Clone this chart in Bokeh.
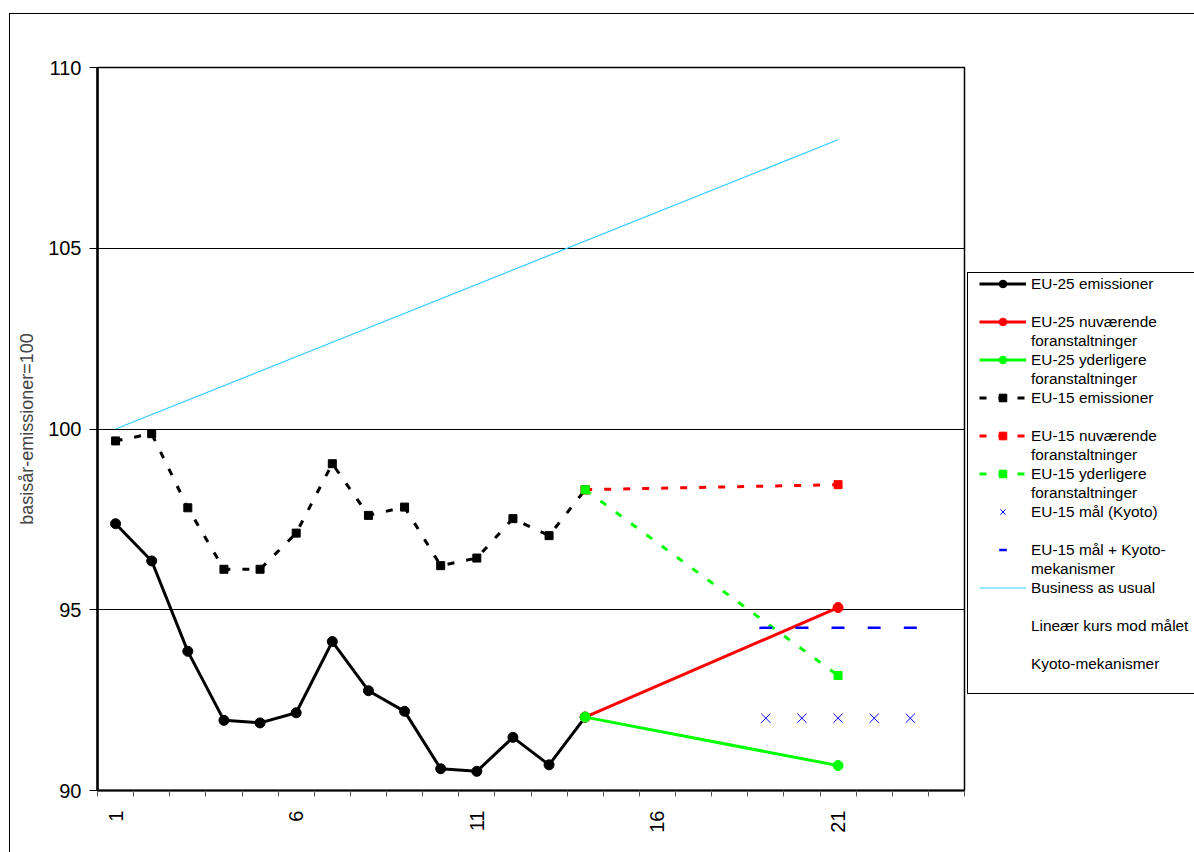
import math
from bokeh.plotting import figure
from bokeh.models import Range1d, FixedTicker, Legend, LegendItem, InlineStyleSheet
from bokeh.embed import file_html
from bokeh.resources import INLINE

# ---------------- data ----------------
categories = [1, 2, 3, 4, 5, 6, 7, 8, 9, 10, 11, 12, 13, 14, 15, 16, 17, 18, 19, 20, 21, 22, 23, 24]
x_tick_values = [1, 6, 11, 16, 21]
x_tick_labels = ["1", "6", "11", "16", "21"]
y_tick_values = [90, 95, 100, 105, 110]

hist_x = [1, 2, 3, 4, 5, 6, 7, 8, 9, 10, 11, 12, 13, 14]
eu25_emissions = [97.38, 96.35, 93.85, 91.94, 91.87, 92.15, 94.12, 92.76, 92.19, 90.60, 90.53, 91.47, 90.71, 92.03]
eu15_emissions = [99.67, 99.87, 97.82, 96.12, 96.12, 97.12, 99.04, 97.61, 97.84, 96.22, 96.43, 97.52, 97.05, 98.32]

proj_x = [14, 21]
eu25_current = [92.03, 95.06]
eu25_additional = [92.03, 90.69]
eu15_current = [98.32, 98.46]
eu15_additional = [98.32, 93.18]

target_x = [19, 20, 21, 22, 23]
eu15_kyoto_target = [92.0, 92.0, 92.0, 92.0, 92.0]
eu15_target_mech = [94.5, 94.5, 94.5, 94.5, 94.5]

bau_x = [1, 21]
bau = [100.0, 108.0]

linear_x = []
linear_path = []
mech_x = []
mech_path = []

# legend labels: (first line, second line)
labels = [
    ("EU-25 emissioner", " "),
    ("EU-25 nuværende", "foranstaltninger"),
    ("EU-25 yderligere", "foranstaltninger"),
    ("EU-15 emissioner", " "),
    ("EU-15 nuværende", "foranstaltninger"),
    ("EU-15 yderligere", "foranstaltninger"),
    ("EU-15 mål (Kyoto)", " "),
    ("EU-15 mål + Kyoto-", "mekanismer"),
    ("Business as usual", " "),
    ("Lineær kurs mod målet", " "),
    ("Kyoto-mekanismer", " "),
]

# ---------------- figure ----------------
FONT = "Liberation Sans"
border_css = InlineStyleSheet(css="""
:host { position: relative; }
:host::before {
  content: "";
  position: absolute;
  left: 9px; top: 13px; right: 0px; bottom: 0px;
  border-top: 1.5px solid black;
  border-left: 1.5px solid black;
  pointer-events: none;
}
:host::after {
  content: "";
  position: absolute;
  left: 967px; top: 272px; right: 0px; height: 420px;
  border-top: 1px solid black;
  border-left: 1px solid black;
  border-bottom: 1px solid black;
  pointer-events: none;
}
""")

p = figure(frame_width=867, frame_height=723,
           min_border_left=97, min_border_right=230,
           min_border_top=67, min_border_bottom=62,
           x_range=Range1d(0.5, 24.5), y_range=Range1d(90, 110),
           output_backend="svg", toolbar_location=None,
           stylesheets=[border_css])
p.background_fill_color = "white"
p.border_fill_color = None
p.outline_line_color = "black"
p.outline_line_width = 1.5

# axes
minor = [c - 0.5 for c in categories] + [categories[-1] + 0.5]
p.xaxis.ticker = FixedTicker(ticks=x_tick_values, minor_ticks=minor)
p.xaxis.major_label_overrides = {v: l for v, l in zip(x_tick_values, x_tick_labels)}
p.xaxis.major_tick_out = 0
p.xaxis.major_tick_in = 0
p.xaxis.minor_tick_out = 6
p.xaxis.minor_tick_in = 0
p.xaxis.minor_tick_line_color = "#555555"
p.xaxis.major_label_orientation = math.pi / 2
p.xaxis.major_label_standoff = 14
p.xaxis.axis_line_width = 2

p.yaxis.ticker = FixedTicker(ticks=y_tick_values)
p.yaxis.major_tick_out = 8
p.yaxis.major_tick_in = 0
p.yaxis.minor_tick_out = 0
p.yaxis.minor_tick_in = 0
p.yaxis.major_label_standoff = 8
p.yaxis.axis_line_width = 2.5
p.yaxis.axis_label = "basisår-emissioner=100"
p.yaxis.axis_label_text_font = FONT
p.yaxis.axis_label_text_font_size = "18px"
p.yaxis.axis_label_text_font_style = "normal"
p.yaxis.axis_label_standoff = 8

for ax in (p.xaxis, p.yaxis):
    ax.major_label_text_font = FONT
    ax.major_label_text_font_size = "20px"
    ax.major_label_text_color = "black"
    ax.axis_line_color = "black"
    ax.major_tick_line_color = "black"

p.xgrid.visible = False
p.ygrid.ticker = FixedTicker(ticks=y_tick_values)
p.ygrid.grid_line_color = "black"
p.ygrid.grid_line_width = 1

# ---------------- series ----------------
DASH = "7 12"
r = {}
r["bau"] = [p.line(bau_x, bau, line_color="#33CCFF", line_width=1.2)]

r["e25"] = [p.line(hist_x, eu25_emissions, line_color="black", line_width=3),
            p.scatter(hist_x, eu25_emissions, marker="circle", size=10, color="black")]
r["e25c"] = [p.line(proj_x, eu25_current, line_color="#FF0000", line_width=3),
             p.scatter(proj_x, eu25_current, marker="circle", size=10, color="#FF0000")]
r["e25a"] = [p.line(proj_x, eu25_additional, line_color="#00FF00", line_width=3),
             p.scatter(proj_x, eu25_additional, marker="circle", size=10, color="#00FF00")]
r["e15"] = [p.line(hist_x, eu15_emissions, line_color="black", line_width=3, line_dash=DASH),
            p.scatter(hist_x, eu15_emissions, marker="square", size=8, color="black")]
r["e15c"] = [p.line(proj_x, eu15_current, line_color="#FF0000", line_width=3, line_dash=DASH),
             p.scatter(proj_x, eu15_current, marker="square", size=8, color="#FF0000")]
r["e15a"] = [p.line(proj_x, eu15_additional, line_color="#00FF00", line_width=3, line_dash=DASH),
             p.scatter(proj_x, eu15_additional, marker="square", size=8, color="#00FF00")]
r["kyoto"] = [p.scatter(target_x, eu15_kyoto_target, marker="x", size=13,
                        line_color="#0000FF", line_width=1)]
r["mech"] = [p.scatter(target_x, eu15_target_mech, marker="dash", size=13,
                       line_color="#0000FF", line_width=2.5)]
r["lin"] = [p.line(linear_x, linear_path, line_color="#CCFFCC", line_width=3),
            p.scatter(linear_x, linear_path, marker="square", size=6, color="#CCFFCC")]
r["km"] = [p.line(mech_x, mech_path, line_color="#CCFFFF", line_width=3),
           p.scatter(mech_x, mech_path, marker="diamond", size=8, color="#CCFFFF")]
blank = p.line([], [], line_alpha=0)

order = ["e25", "e25c", "e25a", "e15", "e15c", "e15a", "kyoto", "mech", "bau", "lin", "km"]
items = []
for (first, second), k in zip(labels, order):
    items.append(LegendItem(label=first, renderers=r[k]))
    items.append(LegendItem(label=second, renderers=[blank]))

legend = Legend(items=items, location=(15, 98), orientation="vertical",
                padding=12, spacing=0, margin=0,
                glyph_width=47, glyph_height=19, label_height=19,
                label_standoff=5, label_text_font=FONT,
                label_text_font_size="15.4px",
                label_text_color="black",
                border_line_color=None, background_fill_alpha=0)
p.add_layout(legend, "right")

open("out.html", "w").write(file_html(p, INLINE))
